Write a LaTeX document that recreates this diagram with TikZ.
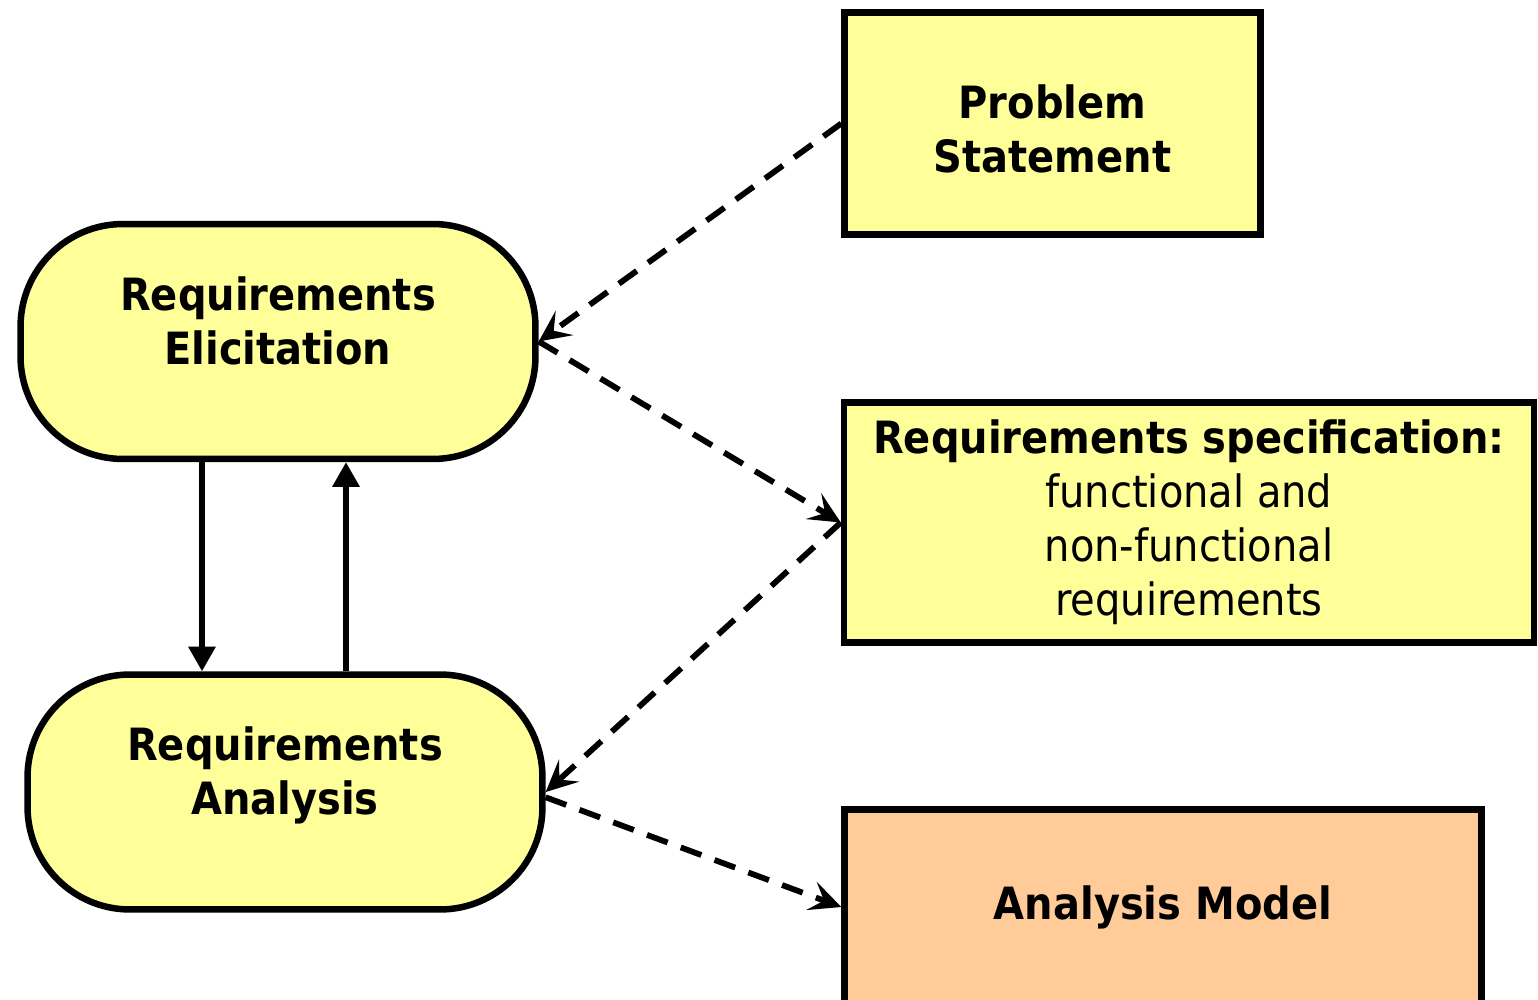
\documentclass[tikz,border=0pt]{standalone}
\usepackage{fontspec}
\setmainfont{DejaVu Sans Condensed}
\usetikzlibrary{arrows.meta}
\definecolor{paleyellow}{HTML}{FFFF99}
\definecolor{paleorange}{HTML}{FFCC99}
\begin{document}
\begin{tikzpicture}[x=0.02cm,y=-0.02cm,
  lbl/.style={font=\fontsize{25.3}{30.7}\selectfont, align=center, text=black},
  activity/.style={lbl, draw=black, line width=3.7pt, fill=paleyellow, rounded corners=2.05cm, minimum width=10.3cm, minimum height=4.7cm, inner sep=0pt},
  artifact/.style={lbl, draw=black, line width=3.7pt, fill=paleyellow, inner sep=0pt},
  flow/.style={draw=black, line width=2.9pt, -{Triangle[length=14pt,width=15pt]}},
  dep/.style={draw=black, line width=3.3pt, dash pattern=on 12.5pt off 8pt, -{Stealth[length=18pt,width=17pt,inset=7.5pt]}}
]
\useasboundingbox (0,0) rectangle (1538,1000);

\node[activity] (E) at (278,341.5) {\textbf{Requirements}\\\textbf{Elicitation}\\[-6.7pt]\mbox{}};
\node[activity] (A) at (285,792) {\textbf{Requirements}\\\textbf{Analysis}\\[-6.7pt]\mbox{}};

\node[artifact, minimum width=8.32cm, minimum height=4.44cm] (P) at (1052.5,123.5) {\mbox{}\\[-4.9pt]\textbf{Problem}\\\textbf{Statement}};
\node[artifact, minimum width=13.8cm, minimum height=4.8cm] (S) at (1189,522.5) {\textbf{Requirements specification:}\\functional and\\non-functional\\requirements};
\node[artifact, fill=paleorange, minimum width=12.74cm, minimum height=3.9cm] (M) at (1163,907) {\textbf{Analysis Model}};

\draw[flow] (E.south -| 202,0) -- (A.north -| 202,0);
\draw[flow] (A.north -| 346,0) -- (E.south -| 346,0);

\draw[dep] (P.west) -- (E.east);
\draw[dep] (E.east) -- (S.west);
\draw[dep] (S.west) -- (A.east);
\draw[dep] ([yshift=-3pt]A.east) -- (M.west);
\end{tikzpicture}
\end{document}
